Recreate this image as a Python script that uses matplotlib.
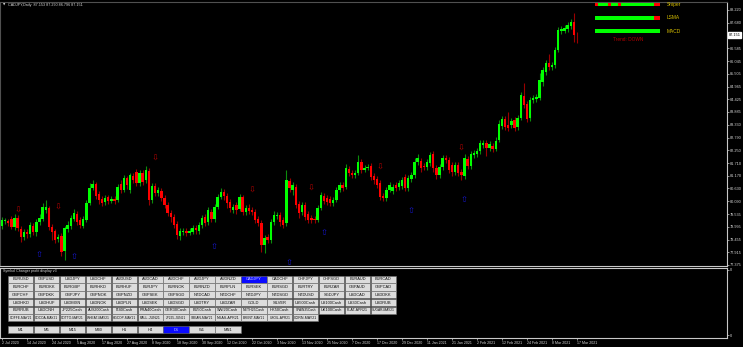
import matplotlib
matplotlib.use('Agg')
import matplotlib.pyplot as plt
from matplotlib.patches import Rectangle
import matplotlib.transforms as mtransforms
import numpy as np

plt.rcParams['font.family'] = ['Liberation Sans', 'DejaVu Sans']

W, H = 743, 347

# ---------------- data ----------------
chart_title = "CADJPY,Daily  87.153 87.290 86.796 87.151"
sub_title = "Symbol Changer profit display v3"

opens = [
    79.03, 79.25, 79.25, 79.33, 78.99, 79.37, 78.91, 78.57, 78.78, 78.69,
    79.03, 78.78, 79.20, 79.33, 79.71, 79.80, 78.99, 78.82, 78.48, 78.61,
    77.97, 78.91, 79.03, 79.33, 79.55, 79.29, 79.03, 79.29, 80.01, 80.65,
    80.82, 80.40, 80.18, 80.05, 80.27, 80.10, 80.18, 80.14, 80.82, 80.56,
    81.07, 80.56, 81.16, 81.33, 80.86, 81.29, 80.99, 81.37, 80.14, 80.73,
    80.44, 80.52, 80.22, 79.93, 79.59, 79.42, 79.12, 78.61, 78.78, 78.82,
    78.74, 78.78, 78.95, 78.82, 79.08, 79.42, 79.20, 79.63, 79.33, 79.84,
    80.27, 80.48, 80.31, 80.05, 79.71, 79.93, 79.76, 80.27, 79.63, 79.80,
    79.71, 79.63, 79.33, 79.16, 78.23, 78.57, 78.44, 79.20, 79.46, 79.50,
    79.29, 79.16, 80.95, 80.56, 80.69, 79.97, 79.63, 79.93, 79.55, 79.37,
    79.33, 79.29, 79.80, 80.31, 80.22, 80.18, 80.01, 80.14, 80.56, 80.78,
    80.69, 81.46, 81.29, 81.20, 81.29, 81.76, 81.42, 81.50, 81.59, 81.16,
    81.03, 80.86, 80.31, 80.22, 80.56, 80.52, 80.78, 80.69, 80.73, 81.12,
    80.65, 81.03, 81.20, 81.76, 81.80, 81.59, 81.54, 81.71, 82.09, 81.50,
    81.20, 81.54, 81.93, 81.84, 81.63, 81.33, 81.63, 81.33, 81.16, 81.88,
    81.59, 82.05, 82.09, 82.22, 82.48, 82.56, 82.35, 82.44, 82.31, 82.69,
    83.29, 83.58, 83.33, 83.33, 83.54, 83.24, 83.63, 84.56, 84.22, 83.63,
    84.39, 84.44, 84.48, 85.16, 85.58, 85.97, 85.80, 85.88, 86.52, 87.33,
    87.33, 87.41, 87.54, 87.71, 87.153,
]
highs = [
    79.42, 79.37, 79.33, 79.46, 79.55, 79.50, 79.03, 78.91, 78.91, 79.20,
    79.16, 79.33, 79.55, 80.01, 80.14, 79.88, 79.12, 78.91, 78.69, 78.74,
    79.03, 79.25, 79.50, 79.76, 79.67, 79.42, 79.46, 80.14, 80.86, 80.99,
    80.90, 80.52, 80.31, 80.35, 80.35, 80.31, 80.31, 80.82, 80.99, 81.20,
    81.16, 81.29, 81.29, 81.46, 81.42, 81.42, 81.59, 81.50, 80.86, 80.86,
    80.69, 80.65, 80.35, 80.05, 79.71, 79.55, 79.25, 78.95, 78.95, 78.95,
    78.95, 79.08, 79.08, 79.20, 79.50, 79.55, 79.84, 79.76, 79.97, 80.40,
    80.65, 80.61, 80.44, 80.18, 79.97, 80.05, 80.40, 80.35, 79.93, 79.97,
    79.84, 79.76, 79.46, 79.29, 78.65, 78.69, 79.33, 79.67, 79.63, 79.63,
    79.42, 81.42, 81.07, 80.90, 80.82, 80.10, 80.05, 80.05, 79.67, 79.50,
    79.46, 79.93, 80.48, 80.44, 80.35, 80.31, 80.27, 80.69, 80.90, 80.90,
    81.67, 81.59, 81.42, 81.42, 82.05, 81.88, 81.63, 81.67, 81.71, 81.29,
    81.16, 80.99, 80.44, 80.69, 80.90, 80.82, 80.90, 80.99, 81.12, 81.25,
    81.20, 81.33, 81.93, 82.09, 81.93, 81.71, 81.88, 82.18, 82.22, 81.63,
    81.67, 82.05, 82.05, 81.97, 81.76, 81.76, 81.76, 81.46, 82.09, 82.01,
    82.22, 82.27, 82.35, 82.69, 82.69, 82.69, 82.65, 82.56, 82.82, 83.54,
    83.71, 83.71, 83.88, 83.63, 83.67, 83.75, 84.73, 85.12, 84.35, 84.52,
    84.61, 84.65, 85.54, 85.80, 86.09, 86.35, 86.01, 86.65, 87.50, 87.54,
    87.58, 87.71, 87.84, 88.09, 87.290,
]
lows = [
    78.91, 79.12, 79.03, 78.91, 78.86, 78.82, 78.35, 78.44, 78.52, 78.57,
    78.65, 78.61, 79.08, 79.25, 79.59, 78.86, 78.44, 78.31, 78.35, 77.76,
    77.59, 78.78, 78.91, 79.25, 79.08, 78.95, 78.95, 79.20, 79.93, 80.56,
    80.18, 79.97, 79.88, 79.93, 79.97, 80.01, 79.97, 80.05, 80.44, 80.48,
    80.61, 80.44, 80.86, 80.73, 80.73, 80.78, 80.86, 79.93, 80.01, 80.31,
    80.31, 80.10, 79.80, 79.46, 79.20, 78.95, 78.48, 78.44, 78.65, 78.61,
    78.65, 78.69, 78.69, 78.69, 78.95, 79.03, 79.08, 79.20, 79.20, 79.76,
    80.18, 80.14, 79.80, 79.63, 79.59, 79.55, 79.67, 79.50, 79.50, 79.55,
    79.50, 79.16, 79.03, 77.93, 77.88, 78.31, 78.31, 79.08, 79.33, 79.03,
    78.95, 79.03, 80.48, 80.35, 79.80, 79.37, 79.50, 79.29, 79.16, 79.16,
    79.16, 79.20, 79.71, 79.97, 79.93, 79.88, 79.88, 80.05, 80.48, 80.52,
    80.61, 81.16, 81.07, 81.07, 81.20, 81.29, 81.33, 81.42, 80.99, 80.82,
    80.65, 80.14, 80.10, 80.10, 80.48, 80.40, 80.52, 80.56, 80.61, 80.52,
    80.52, 80.90, 81.07, 81.63, 81.33, 81.42, 81.42, 81.59, 81.33, 81.03,
    81.07, 81.42, 81.71, 81.29, 81.16, 81.20, 81.16, 80.99, 81.03, 81.46,
    81.46, 81.93, 81.97, 82.09, 82.35, 82.01, 82.22, 82.18, 82.22, 82.61,
    83.16, 83.12, 83.07, 83.20, 83.07, 83.12, 83.54, 84.05, 83.46, 83.50,
    84.26, 84.31, 84.39, 84.99, 85.46, 85.67, 85.67, 85.75, 86.43, 87.20,
    87.24, 87.28, 87.41, 86.86, 86.796,
]
closes = [
    79.29, 79.27, 79.16, 78.99, 79.37, 78.95, 78.57, 78.78, 78.69, 79.08,
    78.78, 79.20, 79.37, 79.84, 79.84, 78.99, 78.78, 78.44, 78.57, 77.93,
    78.95, 79.08, 79.37, 79.59, 79.20, 79.08, 79.33, 80.01, 80.65, 80.82,
    80.31, 80.14, 80.01, 80.22, 80.10, 80.18, 80.10, 80.69, 80.56, 81.07,
    80.78, 81.20, 80.99, 80.86, 81.29, 80.90, 81.42, 80.14, 80.73, 80.44,
    80.56, 80.22, 79.93, 79.59, 79.42, 79.08, 78.65, 78.82, 78.82, 78.74,
    78.82, 78.95, 78.86, 79.08, 79.37, 79.16, 79.71, 79.33, 79.84, 80.27,
    80.48, 80.31, 80.01, 79.80, 79.84, 79.71, 80.27, 79.63, 79.80, 79.67,
    79.63, 79.29, 79.16, 78.23, 78.52, 78.44, 79.20, 79.50, 79.50, 79.20,
    79.08, 80.99, 80.65, 80.78, 79.93, 79.59, 79.93, 79.42, 79.29, 79.29,
    79.29, 79.80, 80.35, 80.10, 80.05, 80.01, 80.14, 80.56, 80.78, 80.65,
    81.50, 81.29, 81.20, 81.29, 81.76, 81.42, 81.50, 81.54, 81.12, 80.99,
    80.78, 80.27, 80.22, 80.56, 80.78, 80.69, 80.65, 80.86, 80.99, 80.65,
    81.07, 81.20, 81.76, 81.93, 81.50, 81.54, 81.76, 82.05, 81.50, 81.20,
    81.54, 81.93, 81.84, 81.42, 81.33, 81.63, 81.29, 81.20, 81.93, 81.59,
    82.09, 82.14, 82.22, 82.56, 82.56, 82.35, 82.52, 82.31, 82.65, 83.37,
    83.58, 83.24, 83.20, 83.50, 83.20, 83.63, 84.61, 84.18, 83.58, 84.39,
    84.48, 84.52, 85.24, 85.67, 85.97, 85.80, 85.88, 86.52, 87.37, 87.41,
    87.45, 87.58, 87.71, 87.16, 87.151,
]

sell_bars = [5, 18, 49, 80, 99, 121, 147]
sell_prices = [79.71, 79.84, 81.93, 80.56, 80.65, 81.54, 82.35]
buy_bars = [12, 23, 68, 92, 103, 131, 148]
buy_prices = [77.80, 77.72, 78.18, 77.50, 78.74, 79.71, 80.14]

date_labels = ["2 Jul 2020", "14 Jul 2020", "24 Jul 2020", "5 Aug 2020", "17 Aug 2020",
               "27 Aug 2020", "8 Sep 2020", "18 Sep 2020", "30 Sep 2020", "12 Oct 2020",
               "22 Oct 2020", "3 Nov 2020", "13 Nov 2020", "25 Nov 2020", "7 Dec 2020",
               "17 Dec 2020", "29 Dec 2020", "11 Jan 2021", "21 Jan 2021", "2 Feb 2021",
               "12 Feb 2021", "24 Feb 2021", "8 Mar 2021", "17 Mar 2021"]
date_label_step = 8

price_labels = [88.220, 87.680, 86.585, 86.045, 85.505, 84.965, 84.425, 83.885, 83.330,
                82.790, 82.250, 81.710, 81.170, 80.630, 80.090, 79.535, 78.995, 78.455,
                77.915, 77.375]
current_price = 87.151

symbols = [
    ["EURUSD", "GBPUSD", "USDJPY", "USDCHF", "AUDUSD", "AUDCAD", "AUDCHF", "AUDJPY", "AUDNZD",
     "CADJPY", "CADCHF", "CHFJPY", "CHFSGD", "EURAUD", "EURCAD"],
    ["EURCHF", "EURDKK", "EURGBP", "EURHKD", "EURHUF", "EURJPY", "EURNOK", "EURNZD", "EURPLN",
     "EURSEK", "EURSGD", "EURTRY", "EURZAR", "GBPAUD", "GBPCAD"],
    ["GBPCHF", "GBPDKK", "GBPJPY", "GBPNOK", "GBPNZD", "GBPSEK", "GBPSGD", "NZDCAD", "NZDCHF",
     "NZDJPY", "NZDSGD", "NZDUSD", "SGDJPY", "USDCAD", "USDDKK"],
    ["USDHKD", "USDHUF", "USDMXN", "USDNOK", "USDPLN", "USDSEK", "USDSGD", "USDTRY", "USDZAR",
     "GOLD", "SILVER", "US500Cash", "US100Cash", "US30Cash", "USDRUB"],
    ["EURRUB", "USDCNH", "JP225Cash", "AUS200Cash", "IT40Cash", "FRA40Cash", "GER30Cash",
     "EU50Cash", "SWI20Cash", "NETH25Cash", "HK50Cash", "SPAIN35Cash", "UK100Cash",
     "PLAT-APR21", "SUGAR-MAY21"],
    ["COFFE-MAY21", "COCOA-MAY21", "COTTO-MAY21", "WHEAT-MAY21", "HGCOP-MAY21", "PALL-JUN21",
     "JP225-JUN21", "SBEAN-MAY21", "NGAS-APR21", "BRENT-MAY21", "USOIL-APR21", "CORN-MAY21"],
]
selected_symbol = "CADJPY"
timeframes = ["M1", "M5", "M15", "M30", "H1", "H4", "D1", "W1", "MN1"]
selected_tf = "D1"

signal_names = ["Sniper", "LSMA", "MACD"]
signal_states = ["RGGGRGGRGGGGGGGGGGRR",
                 "GGGGGGGGGGGGGGGGGGRR",
                 "GGGGGGGGGGGGGGGGGGGG"]
trend_text = "Trend: DOWN"

# ---------------- figure ----------------
fig = plt.figure(figsize=(W / 100, H / 100), dpi=100, facecolor='black')


def fy(y):
    return 1 - y / H


ax = fig.add_axes([0, fy(266), 727 / W, (266 - 2) / H], facecolor='black')
ax.set_xlim(-0.64, 232.0)
ax.set_ylim(77.332, 88.560)

o = np.array(opens)
h = np.array(highs)
l = np.array(lows)
c = np.array(closes)
x = np.arange(len(o))
up = c >= o
wick_cols = np.where(up, '#0c8c0c', '#9a0000')
body_cols = np.where(up, '#00ff00', '#ff0000')
ax.vlines(x, l, h, colors=wick_cols, linewidth=0.8, zorder=2)
ax.bar(x, np.maximum(np.abs(c - o), 0.018), bottom=np.minimum(o, c), width=0.76,
       color=body_cols, linewidth=0, zorder=3)

for b, p in zip(sell_bars, sell_prices):
    ax.text(b, p, "\u21e9", color='#b00000', fontsize=6, ha='center', va='center',
            family='DejaVu Sans', zorder=4)
for b, p in zip(buy_bars, buy_prices):
    ax.text(b, p, "\u21e7", color='#1515c8', fontsize=6, ha='center', va='center',
            family='DejaVu Sans', zorder=4)

ax.set_xticks([])
ax.yaxis.tick_right()
ax.set_yticks(price_labels)
ax.set_yticklabels([f"{v:.3f}" for v in price_labels])
ax.tick_params(axis='y', colors='#c8c8c8', labelcolor='#d8d8d8', labelsize=2.8,
               length=1.2, width=0.5, pad=0.6)
for side, col in [('left', '#505050'), ('top', '#505050'),
                  ('right', '#c8c8c8'), ('bottom', '#c8c8c8')]:
    ax.spines[side].set_color(col)
    ax.spines[side].set_linewidth(0.8)

trans = mtransforms.blended_transform_factory(ax.transAxes, ax.transData)
off = mtransforms.ScaledTranslation(1.6 / 100, 0, fig.dpi_scale_trans)
ax.text(1.0, current_price, f"{current_price:.3f}", transform=trans + off,
        ha='left', va='center', fontsize=2.8, color='black',
        bbox=dict(facecolor='white', edgecolor='white', pad=0.5), clip_on=False)

# sub window with date axis
ax2 = fig.add_axes([0, fy(337.5), 727 / W, (337.5 - 267.5) / H], facecolor='black')
ax2.set_xlim(-0.64, 232.0)
ax2.set_ylim(0, 1)
ax2.set_xticks([i * date_label_step for i in range(len(date_labels))])
ax2.set_xticklabels(date_labels)
for lab in ax2.get_xticklabels():
    lab.set_horizontalalignment('left')
ax2.tick_params(axis='x', colors='#c8c8c8', labelcolor='#d8d8d8', labelsize=2.6,
                length=1.5, width=0.5, pad=1)
ax2.yaxis.tick_right()
ax2.set_yticks([0.03, 0.97])
ax2.set_yticklabels(["0", "0"])
ax2.tick_params(axis='y', colors='#c8c8c8', labelcolor='#d8d8d8', labelsize=2.8,
                length=1.2, width=0.5, pad=0.6)
for s in ax2.spines.values():
    s.set_color('#c8c8c8')
    s.set_linewidth(0.8)

# overlay in pixel coordinates
ov = fig.add_axes([0, 0, 1, 1], facecolor='none')
ov.set_xlim(0, W)
ov.set_ylim(H, 0)
ov.axis('off')

ov.text(3, 4.6, "\u25bc", fontsize=2.2, color='#d8d8d8', va='center', ha='left',
        family='DejaVu Sans')
ov.text(7.5, 4.6, chart_title, fontsize=2.7, color='#d8d8d8', va='center', ha='left')
ov.text(3, 271.3, sub_title, fontsize=2.6, color='#d8d8d8', va='center', ha='left')

# signal bars
cell_w = 3.25
for k, (name, states) in enumerate(zip(signal_names, signal_states)):
    y0 = 2.8 + 13.3 * k
    for j, st in enumerate(states):
        ov.add_patch(Rectangle((595 + j * cell_w, y0), cell_w, 3.6, linewidth=0,
                               facecolor='#00ff00' if st == 'G' else '#ff0000'))
    ov.text(667, y0 + 1.8, name, fontsize=3.5, color='#d8c000', va='center', ha='left')
ov.text(628, 39.5, trend_text, fontsize=3.4, color='#b00000', va='center', ha='center')

BTN_W = 25.4


def button(x0, y0, w, hgt, label, selected):
    rect = Rectangle((x0, y0), w, hgt, facecolor='#0a0aff' if selected else '#dcdcdc',
                     edgecolor='#6e6e6e', linewidth=0.4)
    ov.add_patch(rect)
    fs = 2.9 if len(label) <= 9 else 2.9 * 9.0 / len(label)
    ov.text(x0 + w / 2, y0 + hgt / 2 + 0.2, label, fontsize=fs,
            color='#c8c8ff' if selected else '#101010', ha='center', va='center')


pitch = 25.9
for r, row in enumerate(symbols):
    for ci, name in enumerate(row):
        button(8 + ci * pitch, 275.7 + r * 7.73, BTN_W, 7.1, name, name == selected_symbol)
for ci, tf in enumerate(timeframes):
    button(8 + ci * pitch, 326.0, BTN_W, 7.3, tf, tf == selected_tf)

fig.savefig('out.png', dpi=100, facecolor='black')
